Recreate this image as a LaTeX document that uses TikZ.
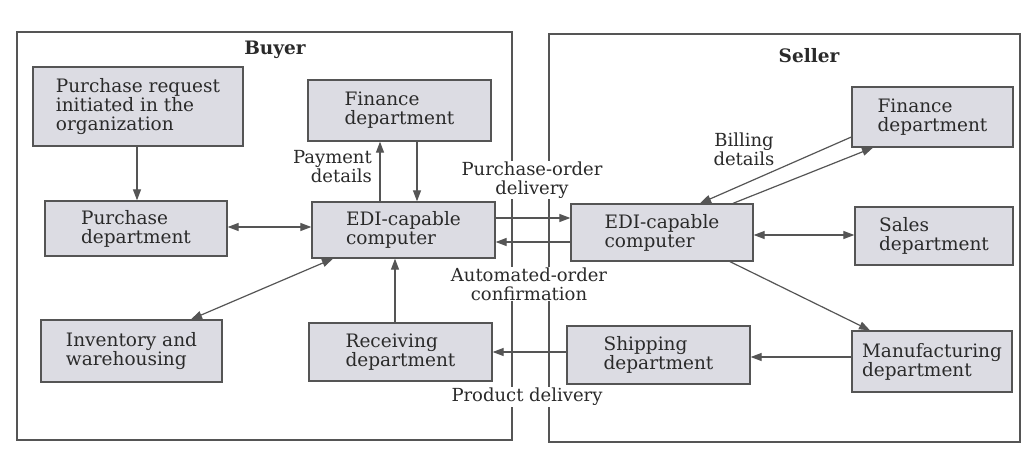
\documentclass[tikz,border=0pt]{standalone}
\usepackage{fontspec}
\setmainfont{DejaVu Serif}
\usetikzlibrary{arrows.meta}
\definecolor{boxfill}{HTML}{DCDCE3}
\definecolor{edgec}{HTML}{555555}
\definecolor{ink}{HTML}{2A2A2A}
\tikzset{
  box/.style={draw=edgec, line width=1.3pt, fill=boxfill, align=left, inner sep=0pt,
    font=\fontsize{18.5}{19}\selectfont, text=ink},
  frame/.style={draw=edgec, line width=1.3pt},
  conn/.style={draw=edgec, line width=1.2pt, -{Triangle[length=11pt,width=8pt]}},
  bconn/.style={draw=edgec, line width=1.2pt, {Triangle[length=11pt,width=8pt]}-{Triangle[length=11pt,width=8pt]}},
  lbl/.style={fill=white, inner sep=1pt, align=center, text=ink, font=\fontsize{18}{19}\selectfont},
  ttl/.style={text=ink, font=\fontsize{18.5}{19}\selectfont\bfseries}
}
\begin{document}
\begin{tikzpicture}[x=1pt,y=-1pt]
\useasboundingbox[fill=white] (0,0) rectangle (1034,452);
% frames
\draw[frame] (17,32) rectangle (512,440);
\draw[frame] (549,34) rectangle (1020,442);
\node[ttl] (buyer) at (275,50) {Buyer};
\node[ttl] (seller) at (809,56) {Seller};
% buyer boxes
\node[box, minimum width=210, minimum height=79] (pr) at (138,106.5) {Purchase request\\initiated in the\\organization};
\node[box, minimum width=183, minimum height=61] (finb) at (399.5,110.5) {Finance\\department};
\node[box, minimum width=182, minimum height=55] (pd) at (136,228.5) {Purchase\\department};
\node[box, minimum width=183, minimum height=56] (edib) at (403.5,230) {EDI-capable\\computer};
\node[box, minimum width=181, minimum height=62] (inv) at (131.5,351) {Inventory and\\warehousing};
\node[box, minimum width=183, minimum height=58] (rec) at (400.5,352) {Receiving\\department};
% seller boxes
\node[box, minimum width=182, minimum height=57] (edis) at (662,232.5) {EDI-capable\\computer};
\node[box, minimum width=161, minimum height=60] (fins) at (932.5,117) {Finance\\department};
\node[box, minimum width=158, minimum height=58] (sales) at (934,236) {Sales\\department};
\node[box, minimum width=183, minimum height=58] (ship) at (658.5,355) {Shipping\\department};
\node[box, minimum width=160, minimum height=61] (mfg) at (932,361.5) {Manufacturing\\department};
% labels over the frame lines
\node[lbl] (lpo) at (532,180) {Purchase-order\\delivery};
\node[lbl] (lao) at (529,284) {Automated-order\\confirmation};
\node[lbl] (lpd) at (527,397) {Product delivery};
\node[lbl, align=right, anchor=east, fill=none] (lpay) at (373,167) {Payment\\details};
\node[lbl, fill=none] (lbill) at (744,149) {Billing\\details};
% buyer connectors
\draw[conn] (pr.south -| 137,0) -- (pd.north -| 137,0);
\draw[bconn] (pd.east |- 0,227) -- (edib.west |- 0,227);
\draw[conn] (edib.north -| 380,0) -- (finb.south -| 380,0);
\draw[conn] (finb.south -| 417,0) -- (edib.north -| 417,0);
\draw[bconn] (inv.north -| 191,0) -- (edib.south -| 333,0);
\draw[conn] (rec.north -| 395,0) -- (edib.south -| 395,0);
% between computers
\draw[conn] (edib.east |- 0,218) -- (edis.west |- 0,218);
\draw[conn] (edis.west |- 0,242) -- (edib.east |- 0,242);
% seller connectors
\draw[conn] (fins.west |- 0,137) -- (edis.north -| 700,0);
\draw[conn] (edis.north -| 733,0) -- (fins.south -| 873,0);
\draw[bconn] (edis.east |- 0,235) -- (sales.west |- 0,235);
\draw[conn] (edis.south -| 730,0) -- (mfg.north -| 870,0);
\draw[conn] (mfg.west |- 0,357) -- (ship.east |- 0,357);
\draw[conn] (ship.west |- 0,352) -- (rec.east |- 0,352);
\end{tikzpicture}
\end{document}
